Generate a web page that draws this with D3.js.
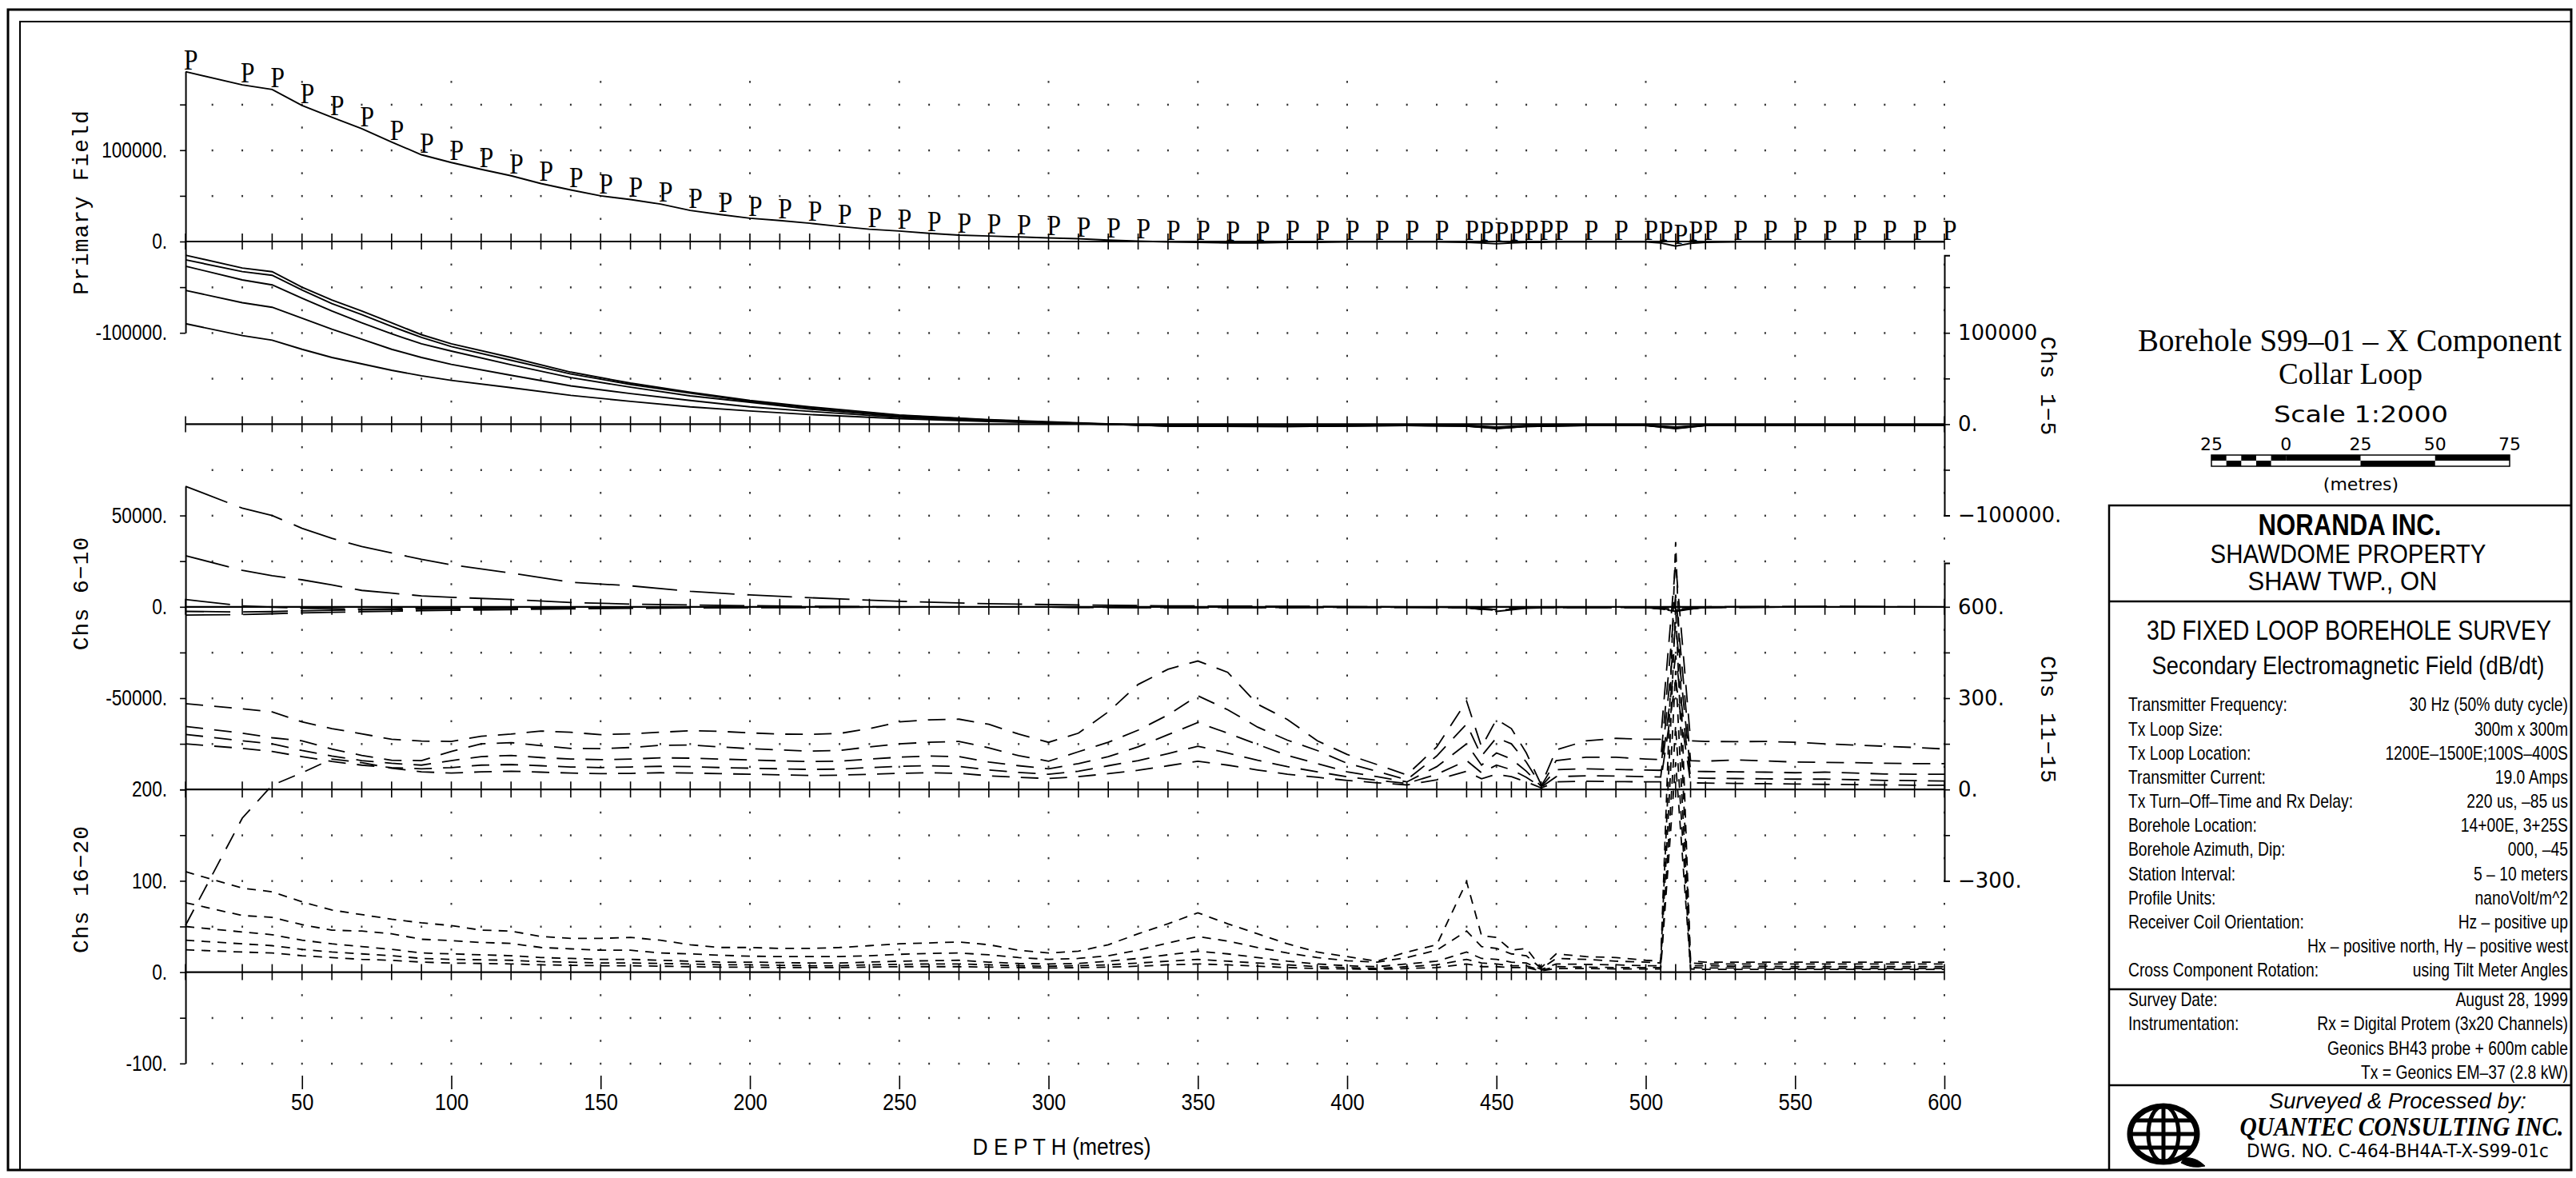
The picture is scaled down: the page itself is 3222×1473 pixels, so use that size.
<!DOCTYPE html>
<html>
<head>
<meta charset="utf-8">
<script src="https://cdn.jsdelivr.net/npm/d3@7"></script>
<style>
body { margin: 0; background: #fff; }
svg { display: block; background: #fff; }
</style>
</head>
<body>
<svg id="chart" width="3222" height="1473"></svg>
<script>
// station depths (m) along the hole
var stations = [11,30,40,50,60,70,80,90,100,110,120,130,140,150,160,170,
    180,190,200,210,220,230,240,250,260,270,280,290,300,310,320,330,
    340,350,360,370,380,390,400,410,420,430,440,445,450,455,460,465,
    470,480,490,500,505,510,515,520,530,540,550,560,570,580,590,600];

var primaryField = [186000,171500,166500,149000,136000,123500,109000,95000,86500,79000,72000,63500,56500,50000,46000,41000,
    34000,29500,25500,23000,20000,16500,13500,11500,9000,7000,6000,5000,4000,3000,1500,500,
    -500,-1000,-1500,-1500,-1000,-1000,-500,-500,-500,-500,-1000,-1500,-2500,-1500,-1000,-1000,
    -500,-500,-500,-500,-1500,-5000,-2000,-1000,-500,-500,-500,-500,-500,-500,-500,-500];

// early channels read at fewer depths
var earlyDepth = [11,30,40,50,60,70,80,90,100,120,140,160,180,200,220,250,280,310,340,380,420,440,450,460,480,500,510,520,560,600];

var ch1 = [185000,171000,167000,150000,136000,124000,111000,98000,88000,73000,57000,45000,35000,26000,19000,10000,5000,1500,-2000,-2500,-1500,-2000,-5000,-2500,-1500,-1500,-5000,-1500,-1000,-1000];
var ch2 = [180000,167000,163000,147000,132000,120000,107000,95000,85000,70000,55000,43500,34000,25000,18000,9500,4500,1000,-2000,-2500,-1500,-2000,-4500,-2500,-1500,-1500,-4500,-1500,-1000,-1000];
var ch3 = [173000,158000,152500,138000,124000,111000,99000,88000,80000,65000,51000,40500,31000,24000,16500,8500,4000,800,-1800,-2200,-1300,-1800,-4000,-2000,-1300,-1300,-4000,-1300,-900,-900];
var ch4 = [146500,133000,128000,116000,104000,93000,82000,73000,65500,53500,42000,33500,26000,19000,14000,7500,3500,600,-1500,-2000,-1200,-1500,-3500,-1800,-1200,-1200,-3500,-1200,-800,-800];
var ch5 = [110000,97000,92000,82000,73000,66000,59000,53000,48000,40000,31500,25000,19000,14500,10500,6000,3000,500,-1200,-1500,-1000,-1200,-3000,-1500,-1000,-1000,-3000,-1000,-700,-700];

var ch6 = [66000,54000,50000,43000,37500,33000,29500,26000,23000,18500,13500,11500,8500,6500,5000,3000,1700,1000,500,300,0,-500,-2500,-800,0,0,-2500,0,300,0];
var ch7 = [28000,20000,17000,14800,12000,9000,7500,6000,5200,4000,2400,1500,1000,600,300,0,0,-200,-400,-300,-200,-600,-2000,-600,-300,-300,-2000,-300,0,0];
var ch8 = [4000,500,-200,-800,-1000,-1200,-1000,-900,-800,-600,-400,-300,-200,-200,-100,0,0,-200,-400,-300,-200,-500,-1500,-500,-300,-300,-1500,-300,0,0];
var ch9 = [-2500,-2800,-2600,-2200,-1900,-1700,-1500,-1300,-1100,-800,-600,-500,-400,-300,-200,-100,0,-200,-400,-300,-200,-500,-1500,-500,-300,-300,-1500,-300,0,0];
var ch10 = [-4500,-4200,-3800,-3300,-3000,-2700,-2400,-2100,-1900,-1500,-1100,-800,-600,-500,-400,-200,-100,-200,-400,-300,-200,-500,-1500,-500,-300,-300,-1500,-300,0,0];

var ch11 = [282,265,255,222,200,183,165,159,158,175,182,192,188,180,183,188,
    193,191,186,182,181,184,200,222,229,231,214,182,155,185,255,345,
    395,422,385,280,230,160,115,82,48,140,290,140,230,200,120,15,
    130,160,168,165,165,744,160,158,157,158,155,150,146,142,138,133];
var ch12 = [207,185,170,160,133,112,96,95,125,150,154,144,135,134,138,145,
    146,140,134,130,126,128,140,150,155,158,137,111,93,124,155,195,
    245,308,262,205,162,128,86,60,32,110,215,110,170,150,90,12,
    95,106,106,100,98,640,95,93,97,94,90,89,88,86,85,85];
var ch13 = [181,160,150,128,110,95,86,80,95,108,112,105,100,98,100,104,
    103,100,97,94,92,93,100,106,110,108,90,78,68,85,108,140,
    180,220,185,148,112,85,58,42,25,75,150,80,120,100,60,10,
    65,68,66,64,63,540,60,59,58,57,55,57,54,51,50,50];
var ch14 = [150,135,125,108,92,80,72,68,72,80,82,78,74,72,74,76,
    75,72,70,68,66,67,72,76,78,76,64,56,50,60,78,95,
    118,142,120,96,75,58,42,30,20,50,95,55,80,65,40,8,
    42,45,44,42,41,440,38,37,36,35,34,34,32,30,29,28];
var ch15 = [-446,-94,14,55,100,88,70,58,54,58,60,57,54,52,53,55,
    54,52,50,48,46,47,50,53,55,53,45,40,36,42,52,63,
    78,93,80,64,50,40,30,22,15,32,60,35,50,42,25,5,
    25,27,26,25,25,360,22,21,20,19,18,17,16,15,14,14];

var ch16 = [110,92,88,77,68,63,58,54,51,46,45,39,37,37,38,35,
    30,27,27,26,26,27,29,31,32,33,30,24,21,23,30,42,
    53,65,53,42,31,22,17,12,22,30,99,40,38,24,26,5,
    20,17,16,13,12,471,12,11,11,11,11,11,11,11,11,11];
var ch17 = [76,62,60,52,46,45,42,36,34.5,32.5,31.5,27,25.5,24,24,21,
    20,18.5,17.5,17,17,17,18,19.5,20.5,21,19,16,14,15,18,24,
    32,39,34,27,21,16,12.5,11,16,24,45,28,26,20,18,4,
    15,14,12,11,10,400,10,9,9,9,9,9,9,9,9,9];
var ch18 = [50,44,41,35,31,28,25,21,20,19,18,16,15,14,14,13,
    12,11,11,10.5,10,10,11,12,12.5,13,11,9.5,9,9.5,12,15,
    19,23,20,16,12,9,7,6,9,12,22,15,14,11,10,3,
    9,8.5,8,7,7,330,7,7,6.5,6.5,6,6,6,6,6,6];
var ch19 = [35,31,29,25,22,20,18,15,14,13.5,13,11.5,11,10,10,9.5,
    9,8,8,7.5,7,7,8,8.5,9,9,8,7,6.5,7,8,10,
    12,14,12,10,8,6,5,4,6,8,14,10,9,7,7,2,
    6,5.5,5,5,5,270,5,4.5,4.5,4.5,4,4,4,4,4,4];
var ch20 = [24.5,22,21,18,16,14,13,11,10,9.5,9,8,7.5,7,7,6.5,
    6,5.5,5.5,5,5,5,5.5,6,6,6,5.5,5,4.5,5,5.5,6.5,
    8,9,8,6.5,5,4,3.5,3,4,5,9,6,6,5,5,1.5,
    4,4,3.5,3.5,3.5,230,3.5,3,3,3,3,3,3,3,3,3];

var depthTicks = [50,100,150,200,250,300,350,400,450,500,550,600];
var scaleBarTicks = [-25,0,25,50,75];

var infoRows = [
    ["Transmitter Frequency:", "30 Hz (50% duty cycle)"],
    ["Tx Loop Size:", "300m x 300m"],
    ["Tx Loop Location:", "1200E\u20131500E;100S\u2013400S"],
    ["Transmitter Current:", "19.0 Amps"],
    ["Tx Turn\u2013Off\u2013Time and Rx Delay:", "220 us,  \u201385 us"],
    ["Borehole Location:", "14+00E, 3+25S"],
    ["Borehole Azimuth, Dip:", "000, \u201345"],
    ["Station Interval:", "5 \u2013 10 meters"],
    ["Profile Units:", "nanoVolt/m^2"],
    ["Receiver Coil Orientation:", "Hz \u2013 positive up"],
    ["", "Hx \u2013 positive north, Hy \u2013 positive west"],
    ["Cross Component Rotation:", "using Tilt Meter Angles"]
];
var surveyRows = [
    ["Survey Date:", "August 28, 1999"],
    ["Instrumentation:", "Rx = Digital Protem (3x20 Channels)"],
    ["", "Geonics BH43 probe + 600m cable"],
    ["", "Tx = Geonics EM\u201337 (2.8 kW)"]
];

var svg = d3.select("#chart");
var sans = "'Liberation Sans',Arial,sans-serif";
var dejavu = "'DejaVu Sans',sans-serif";
var serif = "'Liberation Serif',serif";

var x = d3.scaleLinear().domain([0, 600]).range([191, 2432]);
var rowStep = 28.55;
var topZero = 302;

function panelScale(row, unit) {
    var y0 = topZero + row * rowStep;
    return d3.scaleLinear().domain([0, unit]).range([y0, y0 - 4 * rowStep]);
}
var yPrimary = panelScale(0, 100000);
var y15 = panelScale(8, 100000);
var y610 = panelScale(16, 50000);
var y1115 = panelScale(24, 300);
var y1620 = panelScale(32, 100);

// squeeze a text horizontally around its anchor so it spans the given width
function fit(t, px, width) {
    var w = t.node().getComputedTextLength();
    if (!w) return t;
    var k = width / w;
    t.attr("transform", "translate(" + px + ",0) scale(" + k + ",1) translate(" + (-px) + ",0)");
    return t;
}
function squeeze(t, px, k) {
    t.attr("transform", "translate(" + px + ",0) scale(" + k + ",1) translate(" + (-px) + ",0)");
    return t;
}

// frame
svg.append("rect").attr("x", 10).attr("y", 12).attr("width", 3206).attr("height", 1451)
    .attr("fill", "none").attr("stroke", "#000").attr("stroke-width", 3);
svg.append("path").attr("d", "M25,1463V27H3216").attr("fill", "none").attr("stroke", "#000").attr("stroke-width", 2);

// dotted grid
var gridRows = d3.range(-7, 37).filter(function (k) { return k % 8 !== 0; });
var dots = [];
gridRows.forEach(function (k) {
    var cols = (k % 2 === 0) ? d3.range(20, 601, 10) : d3.range(50, 601, 50);
    cols.forEach(function (d) { dots.push([d, topZero + k * rowStep]); });
});
svg.append("g").selectAll("rect").data(dots).enter().append("rect")
    .attr("x", function (d) { return x(d[0]) - 1; })
    .attr("y", function (d) { return d[1] - 1; })
    .attr("width", 2).attr("height", 2.5)
    .attr("fill", "#333");

// zero lines with station ticks
[yPrimary, y15, y610, y1115, y1620].forEach(function (y) {
    var g = svg.append("g");
    var y0 = y(0);
    g.append("line").attr("x1", x(stations[0])).attr("x2", x(600)).attr("y1", y0).attr("y2", y0)
        .attr("stroke", "#000").attr("stroke-width", 2.2);
    g.selectAll("line.st").data(stations).enter().append("line").attr("class", "st")
        .attr("x1", function (d) { return x(d); })
        .attr("x2", function (d) { return x(d); })
        .attr("y1", y0 - 10).attr("y2", y0 + 10)
        .attr("stroke", "#000").attr("stroke-width", 1.6);
});

function sideAxis(y, lo, hi, ticks, labels, side, outer) {
    var s = y.copy().domain([lo, hi]).range([y(lo), y(hi)]);
    var left = side === "left";
    var axis = (left ? d3.axisLeft(s) : d3.axisRight(s))
        .tickValues(ticks).tickSizeInner(7).tickSizeOuter(outer).tickPadding(left ? 16 : 10)
        .tickFormat(function (d) { return labels[d] || ""; });
    var g = svg.append("g")
        .attr("transform", "translate(" + (left ? x(stations[0]) : x(600)) + ",0)")
        .call(axis);
    g.select(".domain").attr("stroke-width", 2);
    g.selectAll(".tick line").attr("stroke-width", 1.6);
    g.selectAll(".tick text")
        .attr("font-family", left ? sans : dejavu)
        .attr("font-size", left ? 27 : 26)
        .attr("fill", "#000");
    if (left) {
        g.selectAll(".tick text").each(function () {
            var t = d3.select(this);
            squeeze(t, +t.attr("x"), 0.84);
        });
    }
    return g;
}

sideAxis(yPrimary, -100000, d3.max(primaryField), [-100000, -50000, 0, 50000, 100000, 150000],
    {"-100000": "-100000.", "0": "0.", "100000": "100000."}, "left", 0);
sideAxis(y610, -100000, d3.max(ch6), [-100000, -75000, -50000, -25000, 0, 25000, 50000],
    {"-50000": "-50000.", "0": "0.", "50000": "50000."}, "left", 0);
sideAxis(y1620, -100, 200, [-100, -50, 0, 50, 100, 150, 200],
    {"-100": "-100.", "0": "0.", "100": "100.", "200": "200."}, "left", 0);
sideAxis(y15, -100000, d3.max(ch1), [-100000, -50000, 0, 50000, 100000, 150000],
    {"-100000": "\u2212100000.", "0": "0.", "100000": "100000"}, "right", 7);
sideAxis(y1115, -300, d3.max(ch11), [-300, -150, 0, 150, 300, 450, 600],
    {"-300": "\u2212300.", "0": "0.", "300": "300.", "600": "600."}, "right", 7);

// depth axis
var xAxis = svg.append("g").attr("transform", "translate(0,1345)")
    .call(d3.axisBottom(x).tickValues(depthTicks).tickSizeInner(17).tickSizeOuter(0).tickPadding(5));
xAxis.select(".domain").remove();
xAxis.selectAll(".tick line").attr("stroke-width", 1.6);
xAxis.selectAll(".tick text").attr("font-family", sans).attr("font-size", 30).attr("fill", "#000")
    .each(function () { squeeze(d3.select(this), 0, 0.85); });

var depthLabel = svg.append("text").attr("x", 1328).attr("y", 1444).attr("text-anchor", "middle")
    .attr("font-family", sans).attr("font-size", 30)
    .text("D E P T H (metres)");
fit(depthLabel, 1328, 223);

// series
function pairs(depths, values) {
    return depths.map(function (d, i) { return [d, values[i]]; });
}
function drawSeries(list, depths, y, dash, width) {
    var line = d3.line()
        .x(function (d) { return x(d[0]); })
        .y(function (d) { return y(d[1]); });
    svg.append("g").selectAll("path").data(list).enter().append("path")
        .attr("d", function (v) { return line(pairs(depths, v)); })
        .attr("fill", "none")
        .attr("stroke", "#000")
        .attr("stroke-width", width)
        .attr("stroke-dasharray", dash);
}
drawSeries([primaryField], stations, yPrimary, null, 1.9);
drawSeries([ch1, ch2, ch3, ch4, ch5], earlyDepth, y15, null, 1.9);
drawSeries([ch6, ch7, ch8, ch9, ch10], earlyDepth, y610, "56,16", 1.8);
drawSeries([ch11, ch12, ch13, ch14, ch15], stations, y1115, "22,14", 1.8);
drawSeries([ch16, ch17, ch18, ch19, ch20], stations, y1620, "11,9", 1.8);

// P markers on the primary field
svg.append("g").selectAll("text").data(pairs(stations, primaryField)).enter().append("text")
    .attr("x", function (d) { return x(d[0]) - 2; })
    .attr("y", function (d) { return yPrimary(d[1]) - 3; })
    .attr("font-family", serif)
    .attr("font-size", 35)
    .attr("fill", "#000")
    .text("P")
    .each(function () { var t = d3.select(this); squeeze(t, +t.attr("x"), 0.9); });

// panel titles
function sideTitle(txt, cx, cy, angle) {
    svg.append("text")
        .attr("transform", "translate(" + cx + "," + cy + ") rotate(" + angle + ")")
        .attr("text-anchor", "middle").attr("dominant-baseline", "central")
        .attr("font-family", "'Liberation Mono',monospace").attr("font-size", 28)
        .attr("letter-spacing", 1)
        .text(txt);
}
sideTitle("Primary Field", 102, 253, -90);
sideTitle("Chs 6\u221210", 102, 742, -90);
sideTitle("Chs 16\u221220", 102, 1112, -90);
sideTitle("Chs 1\u22125", 2560, 483, 90);
sideTitle("Chs 11\u221215", 2560, 900, 90);

// title block
function label(txt, px, py, opts) {
    var t = svg.append("text").attr("x", px).attr("y", py)
        .attr("text-anchor", opts.anchor || "middle")
        .attr("font-family", opts.font || sans)
        .attr("font-size", opts.size || 22)
        .attr("fill", "#000")
        .text(txt);
    if (opts.weight) t.attr("font-weight", opts.weight);
    if (opts.style) t.attr("font-style", opts.style);
    if (opts.width) fit(t, px, opts.width);
    if (opts.k) squeeze(t, px, opts.k);
    return t;
}
label("Borehole S99\u201301 \u2013 X Component", 2939, 439, {font: serif, size: 39, width: 530});
label("Collar Loop", 2940, 480, {font: serif, size: 37, width: 180});
label("Scale 1:2000", 2953, 528, {font: dejavu, size: 29, width: 218});

var sb = d3.scaleLinear().domain([-25, 75]).range([2766, 3139]);
svg.append("g").selectAll("text").data(scaleBarTicks).enter().append("text")
    .attr("x", function (d) { return sb(d); }).attr("y", 563)
    .attr("text-anchor", "middle").attr("font-family", dejavu).attr("font-size", 22)
    .text(function (d) { return Math.abs(d); });
var checks = d3.range(5).map(function (i) { return -25 + i * 5; });
var bar = svg.append("g");
checks.forEach(function (d, i) {
    bar.append("rect").attr("x", sb(d)).attr("y", i % 2 ? 576 : 569).attr("width", sb(d + 5) - sb(d)).attr("height", 7).attr("fill", "#000");
});
[[0, 569], [25, 576], [50, 569]].forEach(function (s) {
    bar.append("rect").attr("x", sb(s[0])).attr("y", s[1]).attr("width", sb(s[0] + 25) - sb(s[0])).attr("height", 7).attr("fill", "#000");
});
bar.append("rect").attr("x", sb(-25)).attr("y", 569).attr("width", sb(75) - sb(-25)).attr("height", 14)
    .attr("fill", "none").attr("stroke", "#000").attr("stroke-width", 1.5);
label("(metres)", 2953, 613, {font: dejavu, size: 22});

// info box
var box = svg.append("g").attr("stroke", "#000").attr("stroke-width", 2.5).attr("fill", "none");
box.append("path").attr("d", "M2638,1463V632H3216");
[752, 1237, 1357].forEach(function (yy) {
    box.append("line").attr("x1", 2638).attr("x2", 3216).attr("y1", yy).attr("y2", yy);
});
label("NORANDA INC.", 2939, 669, {size: 37, weight: "bold", width: 229});
label("SHAWDOME PROPERTY", 2937, 704, {size: 33, width: 345});
label("SHAW TWP., ON", 2930, 738, {size: 33, width: 237});
label("3D FIXED LOOP BOREHOLE SURVEY", 2938, 800, {size: 36, width: 506});
label("Secondary Electromagnetic Field (dB/dt)", 2937, 843, {size: 32, width: 491});

infoRows.forEach(function (r, i) {
    var yy = 889.5 + i * 30.15;
    if (r[0]) label(r[0], 2662, yy, {anchor: "start", size: 23, k: 0.84});
    label(r[1], 3212, yy, {anchor: "end", size: 23, k: 0.84});
});
surveyRows.forEach(function (r, i) {
    var yy = 1258 + i * 30.3;
    if (r[0]) label(r[0], 2662, yy, {anchor: "start", size: 23, k: 0.84});
    label(r[1], 3212, yy, {anchor: "end", size: 23, k: 0.84});
});

label("Surveyed & Processed by:", 2999, 1386, {size: 28, style: "italic", width: 322});
label("QUANTEC CONSULTING INC.", 3004, 1420, {font: serif, size: 33, weight: "bold", style: "italic", width: 405});
label("DWG. NO. C-464-BH4A-T-X-S99-01c", 2999, 1447, {font: dejavu, size: 23, width: 378});

// globe logo
var logo = svg.append("g").attr("transform", "translate(2706,1418)")
    .attr("fill", "none").attr("stroke", "#000");
logo.append("ellipse").attr("rx", 42).attr("ry", 35).attr("stroke-width", 7);
logo.append("ellipse").attr("rx", 19).attr("ry", 35).attr("stroke-width", 5);
logo.append("line").attr("x1", 0).attr("x2", 0).attr("y1", -35).attr("y2", 35).attr("stroke-width", 5);
[-17, 0, 17].forEach(function (yy) {
    var half = 42 * Math.sqrt(1 - (yy / 35) * (yy / 35));
    logo.append("line").attr("x1", -half).attr("x2", half).attr("y1", yy).attr("y2", yy).attr("stroke-width", 5);
});
logo.append("path").attr("d", "M26,30 Q40,28 52,40 Q36,44 22,36 Z").attr("fill", "#000").attr("stroke-width", 1);
</script>
</body>
</html>
